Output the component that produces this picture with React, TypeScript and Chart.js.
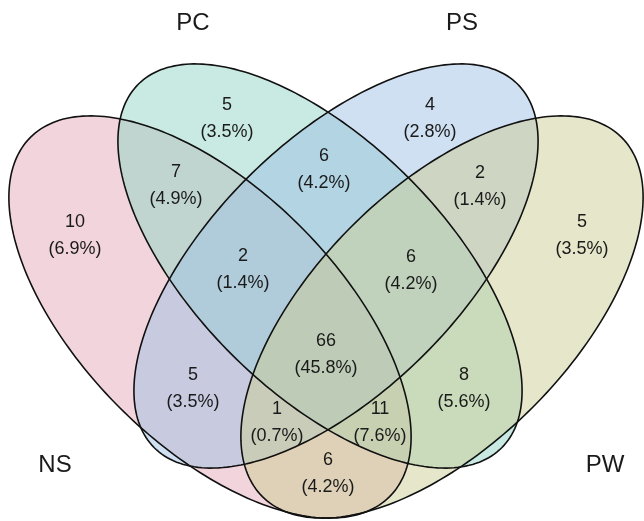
import React, { useEffect, useRef } from 'react';
import { Chart, registerables } from 'chart.js';

Chart.register(...registerables);

const CANVAS_W = 644;
const CANVAS_H = 521;

// ---- data ----
const setNames = ['NS', 'PC', 'PS', 'PW'];
const regionSets = [
  'NS', 'PC', 'NS&PC', 'PC&PS', 'PS', 'PS&PW', 'PW', 'NS&PC&PS',
  'PC&PS&PW', 'NS&PC&PS&PW', 'NS&PS', 'PC&PW', 'NS&PS&PW', 'NS&PC&PW', 'NS&PW',
];
const regionCounts = [10, 5, 7, 6, 4, 2, 5, 2, 6, 66, 5, 8, 1, 11, 6];
const regionPercents = [
  '6.9%', '3.5%', '4.9%', '4.2%', '2.8%', '1.4%', '3.5%', '1.4%',
  '4.2%', '45.8%', '3.5%', '5.6%', '0.7%', '7.6%', '4.2%',
];

// ---- layout (plot units = pixels, y downward) ----
const regionAnchors: [number, number][] = [
  [75, 236], [227, 119], [176, 186], [324, 170], [430, 119], [480, 187], [582, 236],
  [243, 270], [411, 271], [326, 355], [193, 389], [464, 389], [277, 423], [380, 423], [328, 474],
];
const setLabelAnchors: [number, number][] = [[55, 465], [193, 23], [462, 23], [605, 465]];
// ellipse geometry: [cx, cy, semiMajor, semiMinor, angleDeg]
const setShapes: [number, number, number, number, number][] = [
  [210, 317, 254, 128, 45],
  [320, 266, 257, 125, 45],
  [336, 266, 257, 125, -45],
  [442, 317, 254, 128, -45],
];
const setFills = [
  'rgba(229,171,185,0.5)',
  'rgba(145,213,197,0.5)',
  'rgba(159,193,229,0.5)',
  'rgba(205,205,149,0.5)',
];

const FONT = '"Liberation Sans", Arial, Helvetica, sans-serif';

export default function App() {
  const ref = useRef<HTMLCanvasElement>(null);

  useEffect(() => {
    const canvas = ref.current;
    if (!canvas) return;

    const tracePath = (chart: any, shape: [number, number, number, number, number]) => {
      const { ctx } = chart;
      const xs = chart.scales.x;
      const ys = chart.scales.y;
      const [cx, cy, a, b, deg] = shape;
      const th = (deg * Math.PI) / 180;
      const c = Math.cos(th);
      const s = Math.sin(th);
      const n = 240;
      ctx.beginPath();
      for (let i = 0; i <= n; i++) {
        const t = (i / n) * Math.PI * 2;
        const px = cx + a * Math.cos(t) * c - b * Math.sin(t) * s;
        const py = cy + a * Math.cos(t) * s + b * Math.sin(t) * c;
        const X = xs.getPixelForValue(px);
        const Y = ys.getPixelForValue(py);
        if (i === 0) ctx.moveTo(X, Y);
        else ctx.lineTo(X, Y);
      }
      ctx.closePath();
    };

    const vennPlugin = {
      id: 'vennPlugin',
      beforeDatasetsDraw(chart: any) {
        const { ctx } = chart;
        ctx.save();
        setShapes.forEach((shape, i) => {
          tracePath(chart, shape);
          ctx.fillStyle = setFills[i];
          ctx.fill();
        });
        setShapes.forEach((shape) => {
          tracePath(chart, shape);
          ctx.strokeStyle = '#111';
          ctx.lineWidth = 1.6;
          ctx.stroke();
        });
        ctx.restore();
      },
      afterDatasetsDraw(chart: any) {
        const { ctx } = chart;
        ctx.save();
        ctx.textAlign = 'center';
        ctx.textBaseline = 'middle';
        ctx.fillStyle = '#1a1a1a';
        const m0 = chart.getDatasetMeta(0);
        ctx.font = `18px ${FONT}`;
        m0.data.forEach((el: any, i: number) => {
          ctx.fillText(String(regionCounts[i]), el.x, el.y - 13.5);
          ctx.fillText(`(${regionPercents[i]})`, el.x, el.y + 13.5);
        });
        const m1 = chart.getDatasetMeta(1);
        ctx.font = `24px ${FONT}`;
        m1.data.forEach((el: any, i: number) => {
          ctx.fillText(setNames[i], el.x, el.y);
        });
        ctx.restore();
      },
    };

    const chart = new Chart(canvas, {
      type: 'scatter',
      data: {
        datasets: [
          {
            label: 'regions',
            data: regionAnchors.map(([x, y], i) => ({ x, y, r: regionCounts[i], set: regionSets[i] })) as any,
            pointRadius: 0,
          },
          {
            label: 'sets',
            data: setLabelAnchors.map(([x, y]) => ({ x, y })),
            pointRadius: 0,
          },
        ],
      },
      options: {
        animation: false,
        responsive: false,
        events: [],
        layout: { padding: 0 },
        plugins: { legend: { display: false }, tooltip: { enabled: false } },
        scales: {
          x: { type: 'linear', min: 0, max: CANVAS_W, display: false },
          y: { type: 'linear', min: 0, max: CANVAS_H, reverse: true, display: false },
        },
      },
      plugins: [vennPlugin],
    });

    return () => chart.destroy();
  }, []);

  return (
    <div style={{ position: 'fixed', left: 0, top: 0, width: CANVAS_W, height: CANVAS_H, background: '#fff' }}>
      <canvas ref={ref} width={CANVAS_W} height={CANVAS_H} style={{ width: CANVAS_W, height: CANVAS_H, display: 'block' }} />
    </div>
  );
}
